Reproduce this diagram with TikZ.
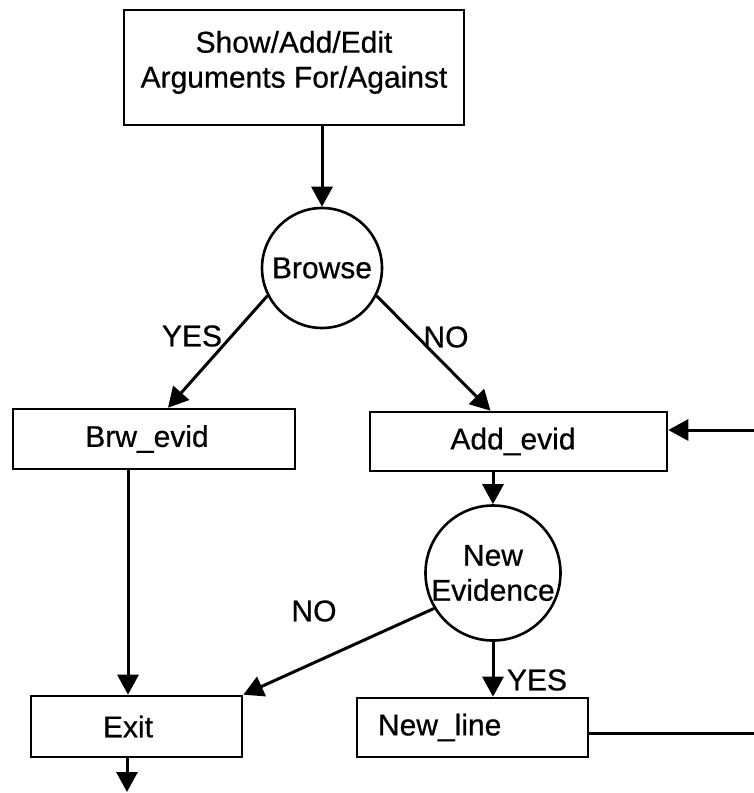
\documentclass[tikz,border=0pt]{standalone}
\usepackage{fontspec}
\setmainfont{Liberation Sans}[FakeBold=0.6]
\usetikzlibrary{arrows.meta}

\begin{document}
\begin{tikzpicture}[x=1pt,y=-1pt,
    font=\fontsize{30}{35}\selectfont,
    box/.style={draw, line width=2.6pt, rectangle, inner sep=0pt, align=center},
    decision/.style={draw, line width=2.6pt, circle, inner sep=0pt, align=center},
    arr/.style={line width=3pt, -{Triangle[length=20pt,width=21pt]}},
    link/.style={line width=3pt},
    lbl/.style={inner sep=0pt}]
  \useasboundingbox (0,0) rectangle (754,793);

  % process boxes and decisions
  \node[box, minimum width=340pt, minimum height=115pt] (top) at (294,67.5)
    {Show/Add/Edit\\ Arguments For/Against\\[-29pt]\strut};
  \node[decision, minimum size=120pt] (browse) at (322,268) {Browse};
  \node[box, minimum width=282pt, minimum height=60pt] (brw) at (154,439) {Brw\_evid\hspace*{14pt}};
  \node[box, minimum width=297pt, minimum height=59pt] (add) at (518.5,441.5) {Add\_evid\hspace*{11pt}};
  \node[decision, minimum size=128pt] (newev) at (493,573) {New\\Evidence};
  \node[box, minimum width=211pt, minimum height=61pt] (exit) at (136.5,726.5) {Exit\hspace*{17pt}};
  \node[box, minimum width=231pt, minimum height=59pt, text width=189pt,
        inner xsep=21pt, align=left] (newline) at (472.5,727.5) {New\_line};

  % free ends at the picture border
  \coordinate (feed) at (754,430);
  \coordinate (loop) at (754,733);
  \coordinate (out) at (127,792);

  % connectors
  \draw[arr] (browse.north |- top.south) -- (browse.north);
  \draw[arr] (browse.207) -- ([xshift=14pt]brw.north);
  \draw[arr] (browse.333) -- ([xshift=-28pt]add.north);
  \draw[arr] (add.south -| newev.north) -- (newev.north);
  \draw[arr] (feed) -- (feed -| add.east);
  \draw[arr] ([xshift=-26pt]brw.south) -- ([xshift=-26pt]brw.south |- exit.north);
  \draw[arr] (newev.211) -- (exit.north east);
  \draw[arr] (newev.south) -- (newev.south |- newline.north);
  \draw[link] (newline.east |- loop) -- (loop);
  \draw[arr] (out |- exit.south) -- (out);

  % branch labels
  \node[lbl] (yes1) at (192,336) {YES};
  \node[lbl] (no1) at (446,337) {NO};
  \node[lbl] (no2) at (314,611) {NO};
  \node[lbl] (yes2) at (537,680) {YES};
\end{tikzpicture}
\end{document}
